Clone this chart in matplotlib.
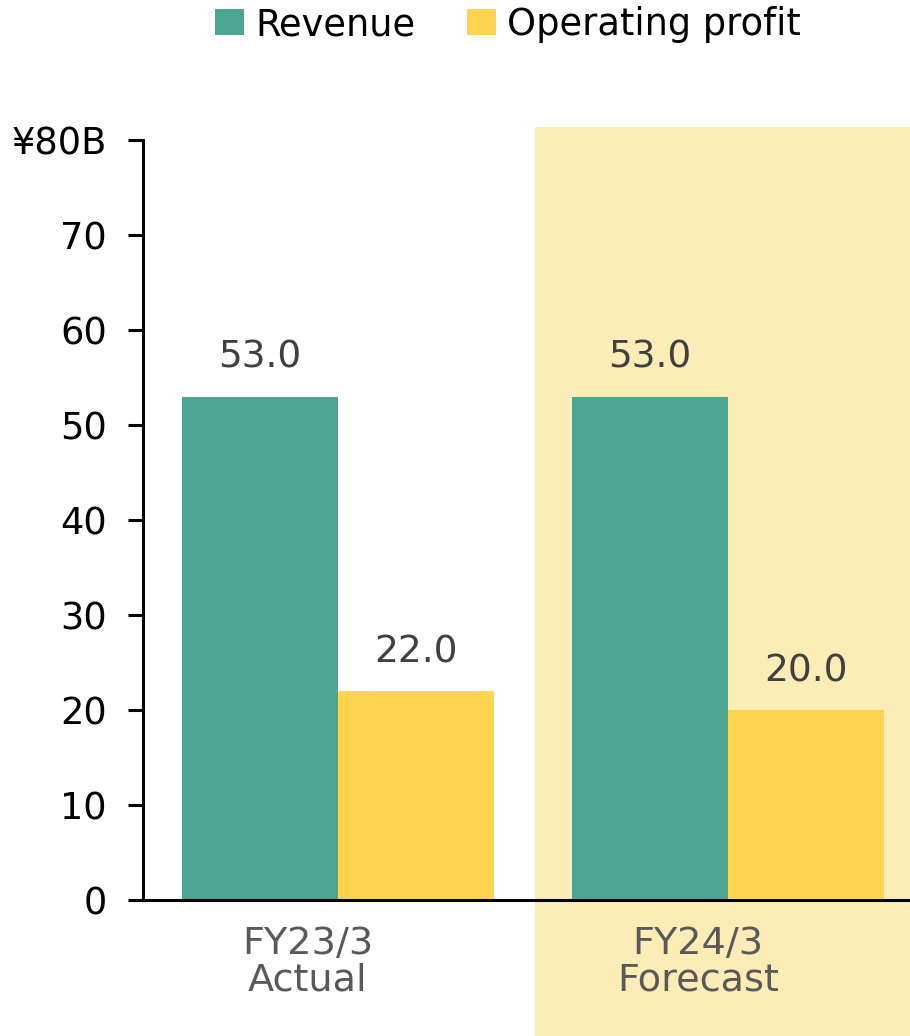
import numpy as np
import matplotlib.pyplot as plt
import matplotlib.transforms as mtransforms
from matplotlib.patches import Rectangle

# Data
periods = ['FY23/3\nActual', 'FY24/3\nForecast']
revenue = [53.0, 53.0]
op_profit = [22.0, 20.0]
y_ticks = [0, 10, 20, 30, 40, 50, 60, 70, 80]
y_labels = ['0', '10', '20', '30', '40', '50', '60', '70', '¥80B']

teal = '#4BA593'
yellow = '#FFD54F'
band = '#FCEDB7'

plt.rcParams['font.family'] = ['DejaVu Sans']

fig = plt.figure(figsize=(9.1, 10.36), dpi=100)
ax = fig.add_axes([0.1571, 0.1313, 0.8429, 0.7461])

x = np.arange(len(periods))
w = 0.4

# forecast highlight band (extends below the axis)
ax.add_patch(Rectangle((0.505, -0.2), 1.0, 1.2, transform=mtransforms.blended_transform_factory(ax.transData, ax.transAxes),
                       color=band, zorder=0, clip_on=False, lw=0))

b1 = ax.bar(x - w / 2, revenue, w, color=teal, label='Revenue', zorder=2)
b2 = ax.bar(x + w / 2, op_profit, w, color=yellow, label='Operating profit', zorder=2)

for bars in (b1, b2):
    for b in bars:
        ax.annotate(f'{b.get_height():.1f}', (b.get_x() + b.get_width() / 2, b.get_height()),
                    xytext=(0, 15), textcoords='offset points', ha='center', va='bottom',
                    fontsize=27, color='#404040')

ax.set_xlim(-0.5, 1.4667)
ax.set_ylim(0, 81.4)
ax.set_yticks(y_ticks)
ax.set_yticklabels(y_labels)
ax.set_xticks(x)
ax.set_xticklabels(periods, color='#595959', linespacing=1.0)

ax.tick_params(axis='y', length=11, width=2.2, labelsize=26.5, pad=15)
ax.tick_params(axis='x', length=0, labelsize=27.5, pad=19)
offset = mtransforms.ScaledTranslation(-30 / 100, 0, fig.dpi_scale_trans)
for lab in ax.get_xticklabels():
    lab.set_transform(lab.get_transform() + offset)

for s in ['top', 'right']:
    ax.spines[s].set_visible(False)
ax.spines['left'].set_linewidth(2.2)
ax.spines['bottom'].set_linewidth(2.2)
ax.spines['left'].set_bounds(0, 80)
ax.patch.set_alpha(0)

fig.legend(loc='upper center', bbox_to_anchor=(0.558, 1.026), ncol=2, frameon=False,
           fontsize=26.5, handlelength=0.8, handleheight=0.7, handletextpad=0.3, columnspacing=1.4)

fig.savefig('out.png', dpi=100)
